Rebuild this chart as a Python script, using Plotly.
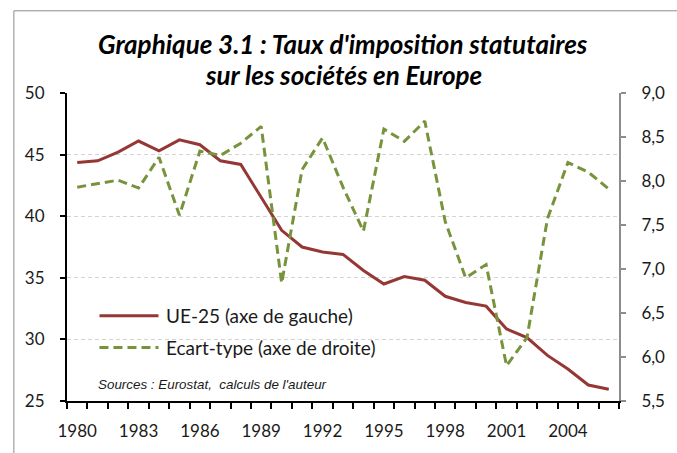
import plotly.graph_objects as go

years = list(range(1980, 2007))
ue25 = [44.35, 44.5, 45.2, 46.1, 45.3, 46.2, 45.8, 44.5, 44.2, 41.5, 38.85, 37.5, 37.1, 36.9,
        35.6, 34.5, 35.1, 34.8, 33.5, 33.0, 32.7, 30.85, 30.15, 28.7, 27.6, 26.3, 25.95]
ecart = [7.93, 7.97, 8.01, 7.92, 8.27, 7.61, 8.34, 8.29, 8.43, 8.62, 6.84, 8.13, 8.49, 7.93,
         7.43, 8.59, 8.45, 8.68, 7.54, 6.90, 7.05, 5.90, 6.22, 7.57, 8.21, 8.10, 7.91]
x_tickvals = [1980, 1983, 1986, 1989, 1992, 1995, 1998, 2001, 2004]
x_ticktext = [str(v) for v in x_tickvals]
left_ticks = [25, 30, 35, 40, 45, 50]
right_ticks = [5.5, 6.0, 6.5, 7.0, 7.5, 8.0, 8.5, 9.0]
right_ticktext = ["5,5", "6,0", "6,5", "7,0", "7,5", "8,0", "8,5", "9,0"]

RED = "#953735"
GREEN = "#77933C"
FONT = "Lato"
TXT = "#1a1a1a"

W, H = 677, 453
L, R, T, B = 67, 628, 93, 404


def px_x(p):
    return (p - L) / (R - L)


def px_y(p):
    return (B - p) / (B - T)


fig = go.Figure()
fig.add_trace(go.Scatter(x=years, y=ue25, mode="lines", name="UE-25 (axe de gauche)",
                         line=dict(color=RED, width=3), yaxis="y"))
fig.add_trace(go.Scatter(x=years, y=ecart, mode="lines", name="Ecart-type (axe de droite)",
                         line=dict(color=GREEN, width=3, dash="9px,5px"), yaxis="y2"))

fig.update_layout(
    width=W, height=H,
    margin=dict(l=L, r=W - R, t=T, b=H - B, pad=0),
    paper_bgcolor="white", plot_bgcolor="white",
    showlegend=False,
    font=dict(family=FONT, size=17, color=TXT),
    xaxis=dict(
        range=[1979.5, 2006.5], tickvals=x_tickvals, ticktext=x_ticktext,
        ticks="", showgrid=False, zeroline=False,
        showline=True, linecolor="black", linewidth=2,
        ticklabelstandoff=14,
        tickfont=dict(family=FONT, size=17, color=TXT),
        minor=dict(ticks="outside", tick0=1979.5, dtick=1, ticklen=6,
                   tickcolor="black", tickwidth=2, showgrid=False),
    ),
    yaxis=dict(
        range=[25, 50], tickvals=left_ticks, ticks="outside", ticklen=5,
        tickcolor="black", tickwidth=2,
        showline=True, linecolor="black", linewidth=2,
        showgrid=True, gridcolor="#D3D3D3", griddash="4px,3px", gridwidth=1,
        zeroline=False, ticklabelstandoff=12,
        tickfont=dict(family=FONT, size=17, color=TXT),
    ),
    yaxis2=dict(
        range=[5.5, 9.0], tickvals=right_ticks, ticktext=right_ticktext,
        overlaying="y", side="right", ticks="outside", ticklen=5,
        tickcolor="#8C8C8C", tickwidth=2,
        showline=True, linecolor="#8C8C8C", linewidth=2,
        showgrid=False, zeroline=False, ticklabelstandoff=12,
        tickfont=dict(family=FONT, size=17, color=TXT),
    ),
)

# Outer frame
fig.add_shape(type="rect", xref="paper", yref="paper",
              x0=px_x(13), x1=px_x(700), y0=px_y(480), y1=px_y(10),
              line=dict(color="#8C8C8C", width=1), layer="below")

# Title
title_font = dict(family=FONT, size=26, color="black", weight="bold", style="italic")
fig.add_annotation(text="Graphique 3.1 : Taux d'imposition statutaires", xref="paper", yref="paper",
                   x=px_x(348), y=px_y(44), xanchor="center", yanchor="middle", showarrow=False,
                   font=title_font)
fig.add_annotation(text="sur les sociétés en Europe", xref="paper", yref="paper",
                   x=px_x(348), y=px_y(75), xanchor="center", yanchor="middle", showarrow=False,
                   font=title_font)

# Legend (manual)
legend_items = [("UE-25 (axe de gauche)", RED, "solid", 318),
                ("Ecart-type (axe de droite)", GREEN, "9px,5px", 350)]
for label, col, dash, ypx in legend_items:
    fig.add_shape(type="line", xref="paper", yref="paper",
                  x0=px_x(100), x1=px_x(160), y0=px_y(ypx), y1=px_y(ypx),
                  line=dict(color=col, width=3, dash=dash))
    fig.add_annotation(text=label, xref="paper", yref="paper", x=px_x(166), y=px_y(ypx),
                       xanchor="left", yanchor="middle", showarrow=False,
                       font=dict(family=FONT, size=19, color=TXT))

# Source
fig.add_annotation(text="Sources : Eurostat,  calculs de l'auteur", xref="paper", yref="paper",
                   x=px_x(96), y=px_y(387), xanchor="left", yanchor="middle", showarrow=False,
                   font=dict(family="Liberation Sans", size=13.4, color=TXT, style="italic"))

fig.write_html("out.html", config={"displayModeBar": False},
               post_script="document.body.style.margin='0';")
